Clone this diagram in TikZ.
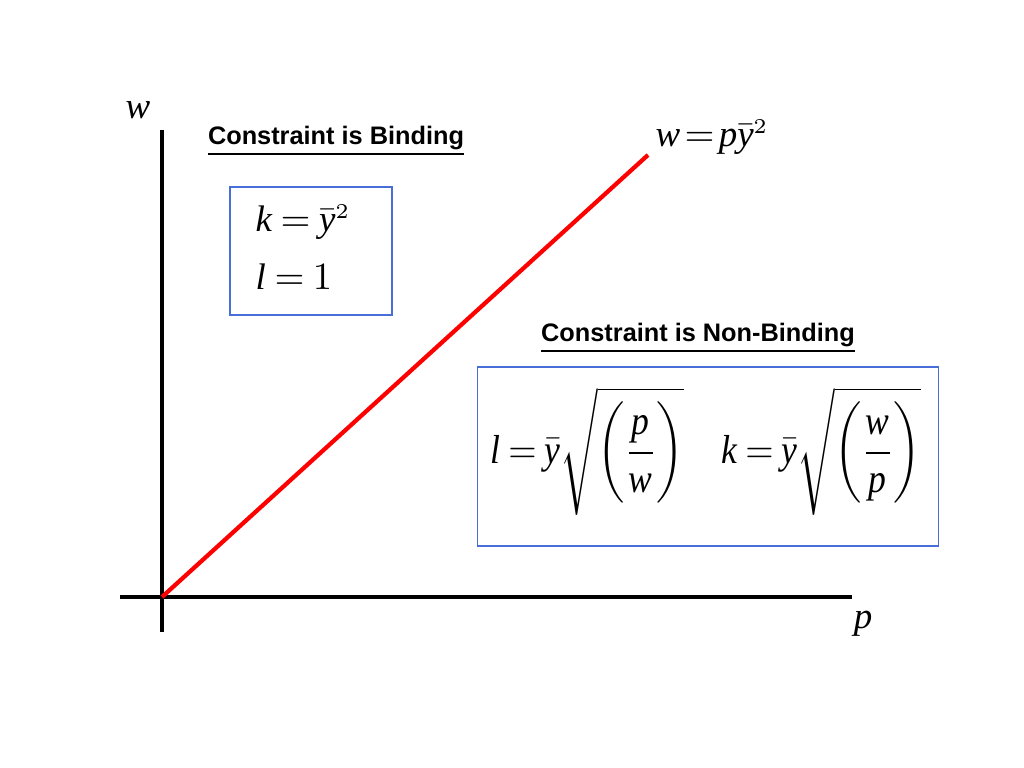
\documentclass[tikz,border=0pt]{standalone}
\usepackage{fontspec}
\setmainfont{Liberation Serif}
\setsansfont{Liberation Sans}
\usepackage[italic]{mathastext}
\usepackage{amsmath}
\definecolor{boxblue}{RGB}{72,110,216}
\thickmuskip=4mu plus 1mu
\medmuskip=3mu
\DeclareMathSizes{10.5}{10.5}{6.5}{5}
\DeclareMathSizes{11.5}{11.5}{7.5}{6}
\newcommand{\narroweq}[1]{\scalebox{0.88}[1]{#1}}
\newcommand{\parenfrac}[2]{\left(\rule[-12pt]{0pt}{29pt}\dfrac{#1}{#2}\right)}

\begin{document}
\begin{tikzpicture}[x=0.01cm, y=-0.01cm,
  axis/.style={black, line width=0.9pt},
  eq/.style={inner sep=0pt, font=\fontsize{10.5}{13}\selectfont},
  bigeq/.style={inner sep=0pt, font=\fontsize{11.5}{14}\selectfont},
  heading/.style={inner sep=0pt, font=\sffamily\bfseries\fontsize{7.2}{9}\selectfont},
  infobox/.style={draw=boxblue, line width=0.35pt, inner sep=0pt}]
  \useasboundingbox (0,0) rectangle (1024,768);
  % axes
  \coordinate (ytop) at (162,130);
  \coordinate (ybot) at (162,632);
  \coordinate (xleft) at (120,597);
  \coordinate (xright) at (852,597);
  \coordinate (origin) at (162,597);
  \coordinate (lineend) at (648,155);
  \draw[axis] (ytop) -- (ybot);
  \draw[axis] (xleft) -- (xright);
  \node[eq] (wlab) at (138,110) {$w$};
  \node[eq] (plab) at (863,624) {$p$};
  % the line
  \draw[red, line width=1.2pt] (origin) -- (lineend);
  \node[eq, anchor=base west] (linelab) at (655,147) {$w\mkern-2mu=\mkern-2mu p\bar{y}^2$};
  % binding case
  \node[heading] (bindhead) at (336,141) {\underline{Constraint is Binding}};
  \node[infobox, minimum width=1.62cm, minimum height=1.28cm] (bindbox) at (311,251) {};
  \node[eq, anchor=base west] (bindk) at (255,232) {$k=\bar{y}^2$};
  \node[eq, anchor=base west] (bindl) at (255,290) {$l=1$};
  % non-binding case
  \node[heading] (freehead) at (698,338) {\underline{Constraint is Non-Binding}};
  \node[infobox, minimum width=4.6cm, minimum height=1.79cm] (freebox) at (708,456.5) {};
  \node[bigeq] (freel) at (587,451) {\narroweq{$l=\bar{y}\sqrt{\parenfrac{p}{w}}$}};
  \node[bigeq] (freek) at (821,451) {\narroweq{$k=\bar{y}\sqrt{\parenfrac{w}{p}}$}};
\end{tikzpicture}
\end{document}
